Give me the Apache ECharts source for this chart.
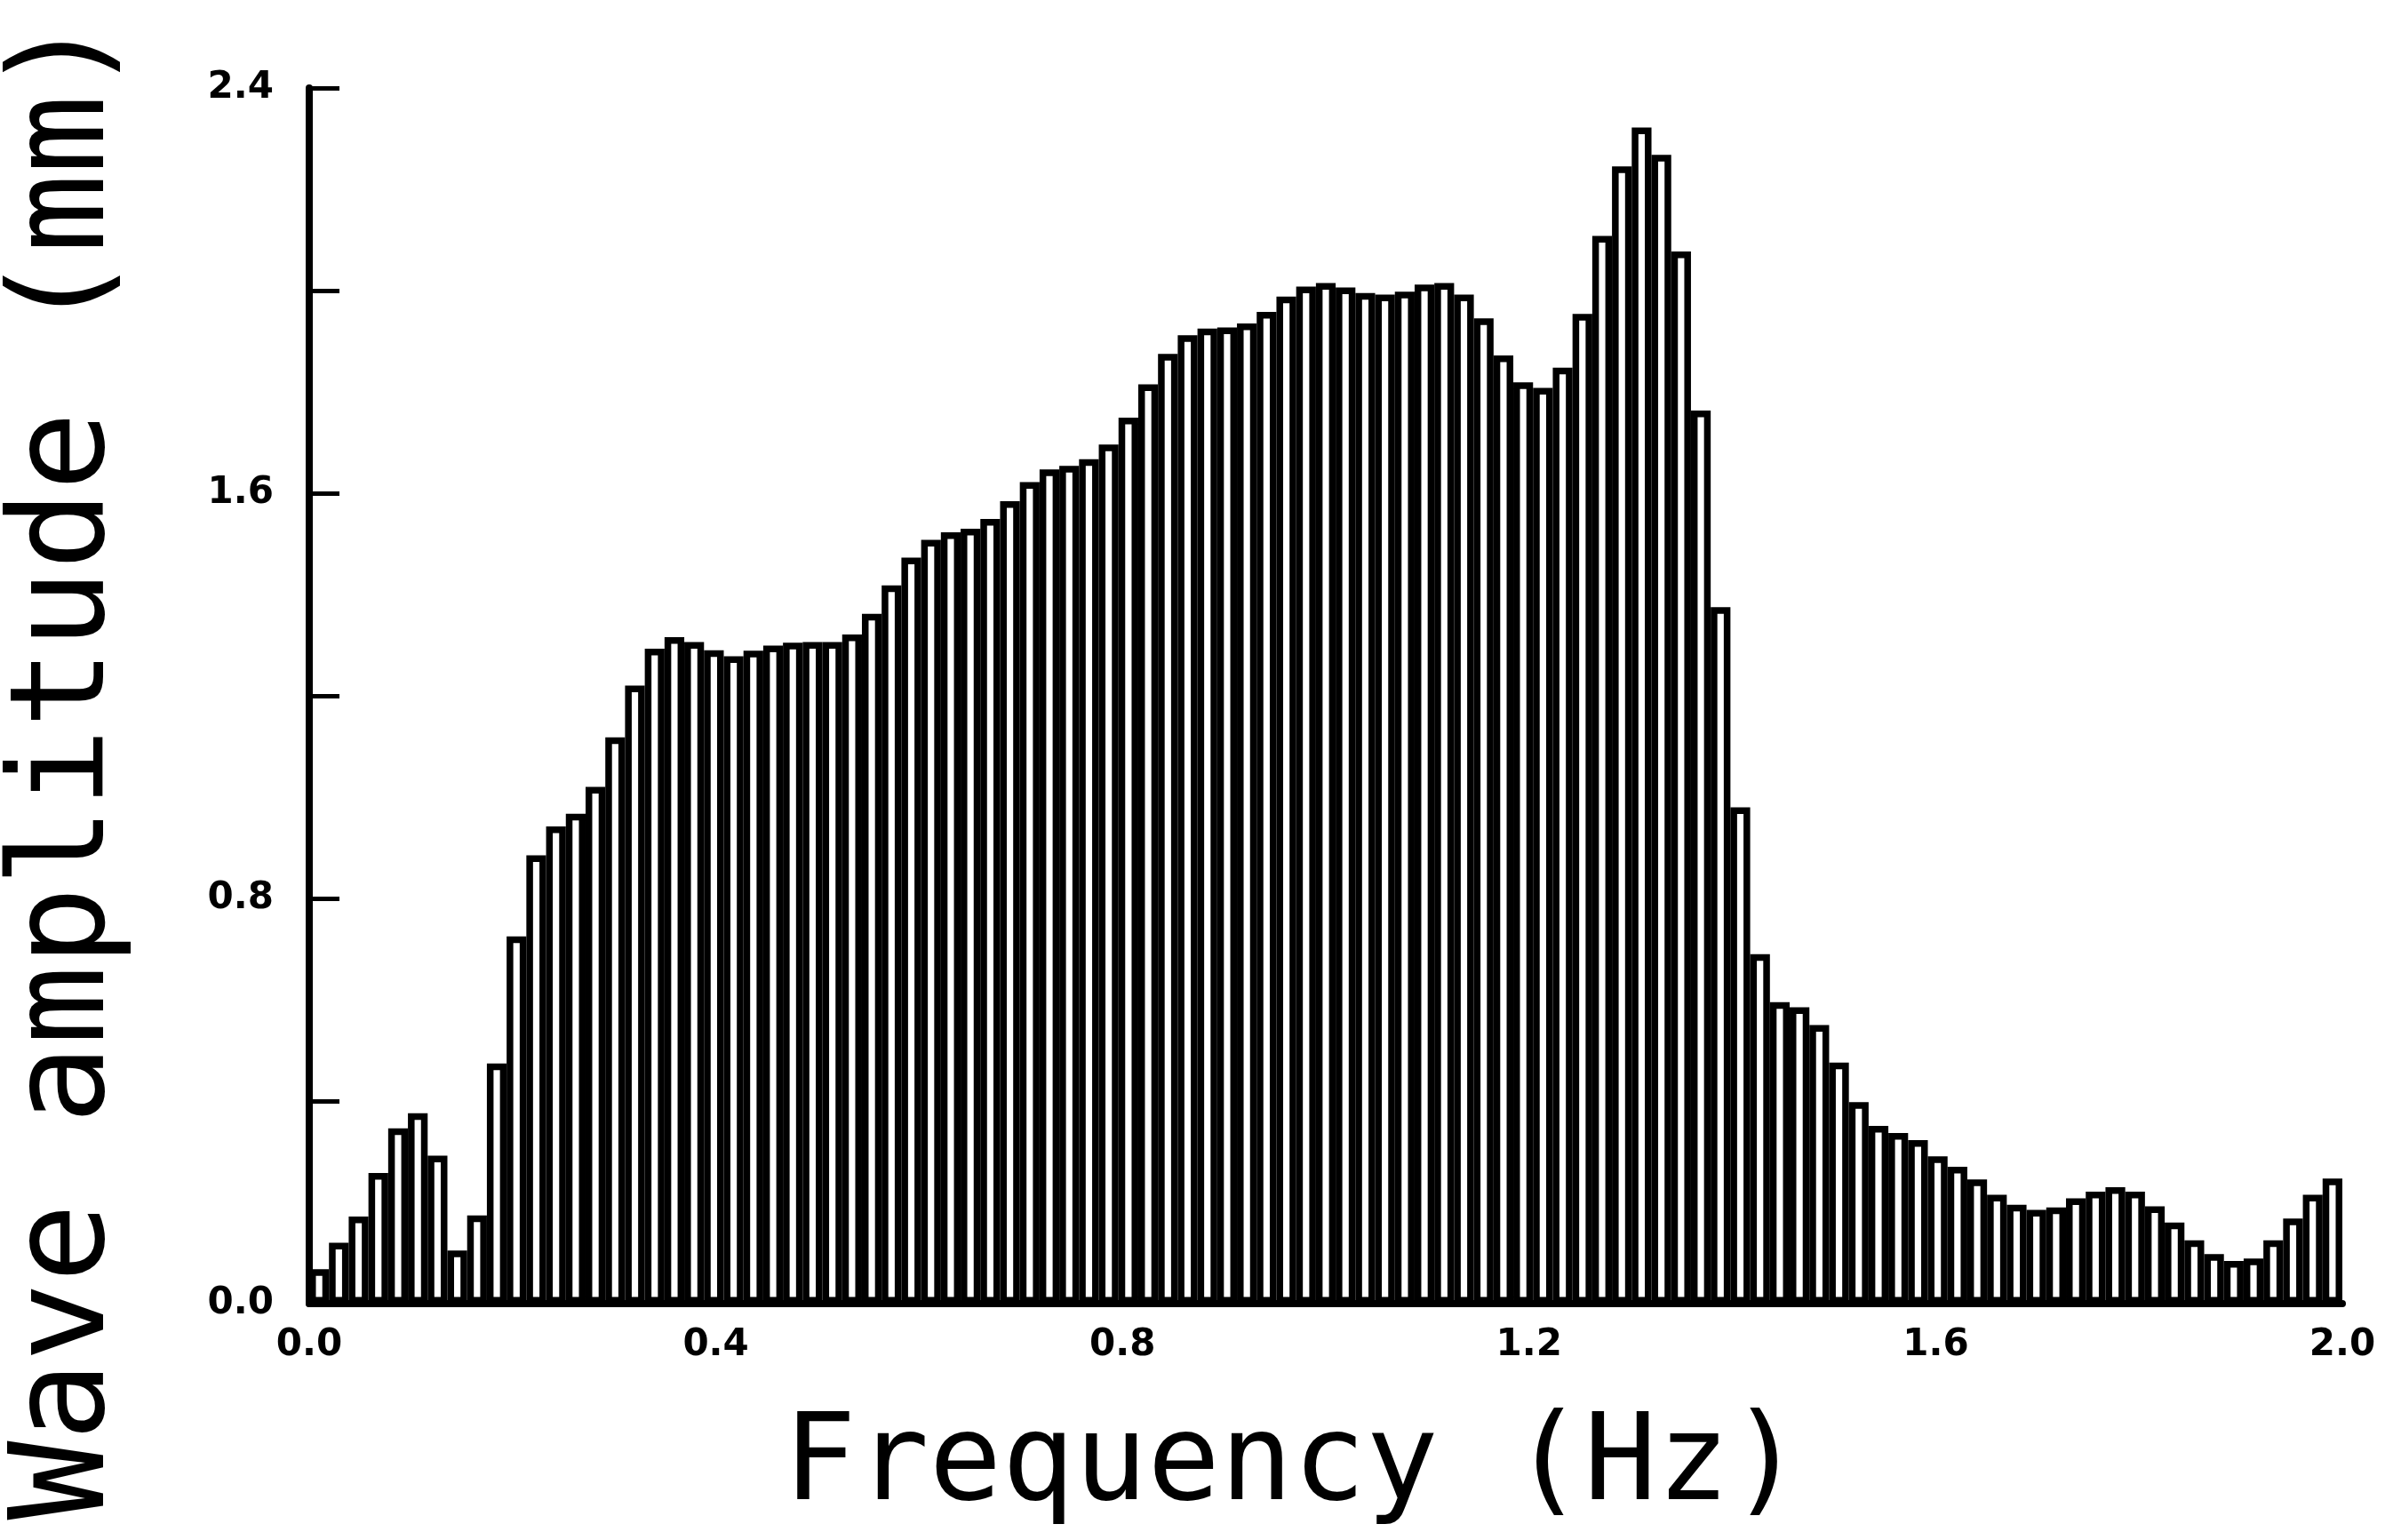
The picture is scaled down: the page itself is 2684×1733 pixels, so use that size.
<!DOCTYPE html>
<html>
<head>
<meta charset="utf-8">
<script src="https://cdn.jsdelivr.net/npm/echarts@6/dist/echarts.min.js"></script>
<style>
  html, body { margin: 0; padding: 0; background: #fff; }
  #chart { width: 2684px; height: 1733px; }
</style>
</head>
<body>
<div id="chart"></div>
<script>
// Frequency bin centres (Hz)
const frequencies = [
  "0.010","0.029","0.049","0.068","0.087","0.107","0.126","0.146","0.165","0.184",
  "0.204","0.223","0.243","0.262","0.282","0.301","0.320","0.340","0.359","0.379",
  "0.398","0.417","0.437","0.456","0.476","0.495","0.515","0.534","0.553","0.573",
  "0.592","0.612","0.631","0.650","0.670","0.689","0.709","0.728","0.748","0.767",
  "0.786","0.806","0.825","0.845","0.864","0.883","0.903","0.922","0.942","0.961",
  "0.981","1.000","1.019","1.039","1.058","1.078","1.097","1.117","1.136","1.155",
  "1.175","1.194","1.214","1.233","1.252","1.272","1.291","1.311","1.330","1.350",
  "1.369","1.388","1.408","1.427","1.447","1.466","1.485","1.505","1.524","1.544",
  "1.563","1.583","1.602","1.621","1.641","1.660","1.680","1.699","1.718","1.738",
  "1.757","1.777","1.796","1.816","1.835","1.854","1.874","1.893","1.913","1.932",
  "1.951","1.971","1.990"
];

// Wave amplitude (mm) per bin
const amplitudes = [
  0.068, 0.120, 0.172, 0.258, 0.346, 0.376, 0.292, 0.105, 0.174, 0.474,
  0.725, 0.885, 0.942, 0.967, 1.020, 1.118, 1.220, 1.293, 1.316, 1.306,
  1.290, 1.278, 1.289, 1.299, 1.305, 1.306, 1.306, 1.321, 1.362, 1.418,
  1.473, 1.508, 1.523, 1.530, 1.549, 1.584, 1.622, 1.647, 1.654, 1.667,
  1.696, 1.749, 1.815, 1.875, 1.912, 1.925, 1.927, 1.935, 1.958, 1.988,
  2.008, 2.015, 2.006, 1.995, 1.992, 1.998, 2.012, 2.015, 1.992, 1.945,
  1.872, 1.819, 1.808, 1.848, 1.954, 2.108, 2.245, 2.322, 2.268, 2.077,
  1.763, 1.375, 0.980, 0.690, 0.595, 0.585, 0.550, 0.476, 0.398, 0.351,
  0.337, 0.323, 0.291, 0.270, 0.245, 0.215, 0.195, 0.185, 0.190, 0.208,
  0.221, 0.230, 0.221, 0.192, 0.160, 0.125, 0.098, 0.084, 0.089, 0.125,
  0.168, 0.215, 0.247
];

const xTickLabels = ["0.0", "0.4", "0.8", "1.2", "1.6", "2.0"];
const yTickLabels = ["0.0", "0.8", "1.6", "2.4"];
const xTitle = "Frequency (Hz)";
const yTitle = "Wave amplitude (mm)";

const chart = echarts.init(document.getElementById('chart'), null, { renderer: 'canvas' });

const tickFont = { color: '#000', fontFamily: 'DejaVu Sans', fontWeight: 'bold', fontSize: 42 };

chart.setOption({
  animation: false,
  backgroundColor: '#fff',
  grid: { left: 348, right: 48, top: 99, bottom: 266, containLabel: false },
  xAxis: [
    {
      type: 'category',
      data: frequencies,
      boundaryGap: true,
      position: 'bottom',
      axisLine: { show: true, lineStyle: { color: '#000', width: 8 } },
      axisTick: { show: false },
      axisLabel: { show: false },
      splitLine: { show: false }
    },
    {
      type: 'value',
      min: 0,
      max: 2.0,
      interval: 0.4,
      position: 'bottom',
      axisLine: { show: false },
      axisTick: { show: false },
      splitLine: { show: false },
      axisLabel: Object.assign({
        margin: 26,
        formatter: function (v) {
          const s = v.toFixed(1);
          return xTickLabels.indexOf(s) >= 0 ? s : '';
        }
      }, tickFont)
    }
  ],
  yAxis: {
    type: 'value',
    min: 0,
    max: 2.4,
    interval: 0.4,
    axisLine: { show: true, lineStyle: { color: '#000', width: 8 } },
    axisTick: { show: true, inside: true, length: 34, lineStyle: { color: '#000', width: 5 } },
    splitLine: { show: false },
    axisLabel: Object.assign({
      margin: 40,
      formatter: function (v) {
        const s = v.toFixed(1);
        return yTickLabels.indexOf(s) >= 0 ? s : '';
      }
    }, tickFont)
  },
  series: [
    {
      type: 'bar',
      xAxisIndex: 0,
      data: amplitudes,
      barCategoryGap: '0%',
      clip: false,
      itemStyle: { color: '#fff', borderColor: '#000', borderWidth: 7.5 }
    }
  ],
  graphic: [
    {
      type: 'text',
      x: 1455,
      y: 1652,
      style: {
        text: xTitle,
        font: 'normal 136px "DejaVu Sans Mono"',
        fill: '#000',
        textAlign: 'center',
        textVerticalAlign: 'middle'
      }
    },
    {
      type: 'text',
      x: 78,
      y: 864,
      rotation: Math.PI / 2,
      style: {
        text: yTitle,
        font: 'normal 148px "DejaVu Sans Mono"',
        fill: '#000',
        textAlign: 'center',
        textVerticalAlign: 'middle'
      }
    }
  ]
});
</script>
</body>
</html>
